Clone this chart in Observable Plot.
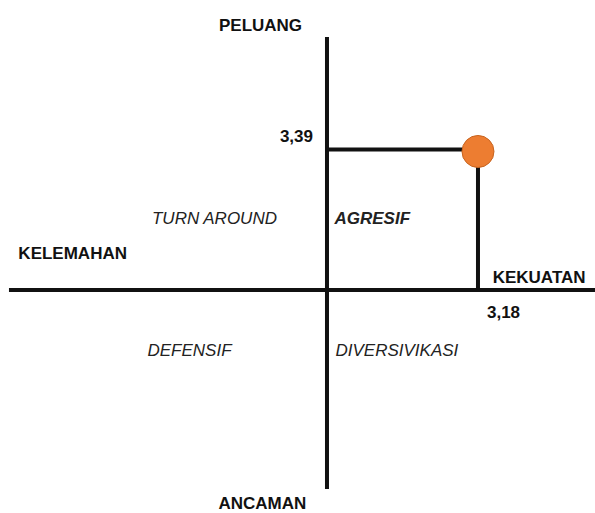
<!DOCTYPE html>
<html>
<head>
<meta charset="utf-8">
<script src="https://cdn.jsdelivr.net/npm/d3@7"></script>
<script src="https://cdn.jsdelivr.net/npm/@observablehq/plot@0.6"></script>
<style>
  html, body { margin: 0; padding: 0; background: #fff; }
  #chart svg { display: block; }
</style>
</head>
<body>
<div id="chart"></div>
<script>
// Data
const strengthWeakness = 3.18;   // KEKUATAN - KELEMAHAN
const opportunityThreat = 3.39;  // PELUANG - ANCAMAN
const axisNames = ["PELUANG", "ANCAMAN", "KELEMAHAN", "KEKUATAN"];
const quadrantNames = ["TURN AROUND", "AGRESIF", "DEFENSIF", "DIVERSIVIKASI"];
const valueLabels = ["3,39", "3,18"];

// Layout (data units)
const xDomain = [-6.876, 5.655];
const yDomain = [-5.392, 6.984];
const hAxis = [-6.687, 5.655];
const vAxis = [-4.813, 6.092];

const point = [{x: strengthWeakness, y: opportunityThreat}];

const axisLabelPos = [
  {x: -1.40, y: 6.38, anchor: "middle"},
  {x: -1.36, y: -5.14, anchor: "middle"},
  {x: -6.50, y: 0.88, anchor: "start"},
  {x: 3.49, y: 0.30, anchor: "start"}
];
const quadPos = [
  {x: -2.37, y: 1.725, anchor: "middle"},
  {x: 0.158, y: 1.725, anchor: "start"},
  {x: -2.896, y: -1.46, anchor: "middle"},
  {x: 0.179, y: -1.46, anchor: "start"}
];

const axisLabels = axisNames.map((t, i) => ({text: t, ...axisLabelPos[i]}));
const quadLabels = quadrantNames.map((t, i) => ({text: t, ...quadPos[i]}));

const font = "'Liberation Sans', Arial, sans-serif";
const ink = "#111";

const chart = Plot.plot({
  width: 595,
  height: 513,
  margin: 0,
  x: {domain: xDomain, axis: null},
  y: {domain: yDomain, axis: null},
  style: {fontFamily: font, background: "#fff"},
  marks: [
    Plot.ruleY([0], {x1: hAxis[0], x2: hAxis[1], stroke: ink, strokeWidth: 4}),
    Plot.ruleX([0], {y1: vAxis[0], y2: vAxis[1], stroke: ink, strokeWidth: 4}),
    Plot.ruleY(point, {y: "y", x1: 0, x2: "x", stroke: ink, strokeWidth: 4}),
    Plot.ruleX(point, {x: "x", y1: 0, y2: "y", stroke: ink, strokeWidth: 4}),
    Plot.dot(point, {x: "x", y: "y", r: 16, dy: 2, fill: "#ED7D31", stroke: "#C8641F", strokeWidth: 1}),
    Plot.text(axisLabels.filter(d => d.anchor === "middle"), {x: "x", y: "y", text: "text", textAnchor: "middle", fontSize: 17, fontWeight: "bold", fill: ink}),
    Plot.text(axisLabels.filter(d => d.anchor === "start"), {x: "x", y: "y", text: "text", textAnchor: "start", fontSize: 17, fontWeight: "bold", fill: ink}),
    Plot.text(quadLabels.filter(d => d.anchor === "middle"), {x: "x", y: "y", text: "text", textAnchor: "middle", fontSize: 17, fontStyle: "italic", fill: "#222"}),
    Plot.text(quadLabels.filter(d => d.anchor === "start"), {x: "x", y: "y", text: "text", textAnchor: "start", fontSize: 17, fontStyle: "italic", fill: "#222"}),
    Plot.text(point, {x: 0, y: "y", text: () => valueLabels[0], textAnchor: "end", dx: -14, dy: -13, fontSize: 17, fontWeight: "bold", fill: ink}),
    Plot.text(point, {x: "x", y: 0, text: () => valueLabels[1], textAnchor: "start", dx: 9, dy: 23, fontSize: 17, fontWeight: "bold", fill: ink})
  ]
});

// AGRESIF is bold italic
d3.select(chart).selectAll("text").filter(function() { return this.textContent === "AGRESIF"; }).attr("font-weight", "bold");

document.getElementById("chart").appendChild(chart);
</script>
</body>
</html>
